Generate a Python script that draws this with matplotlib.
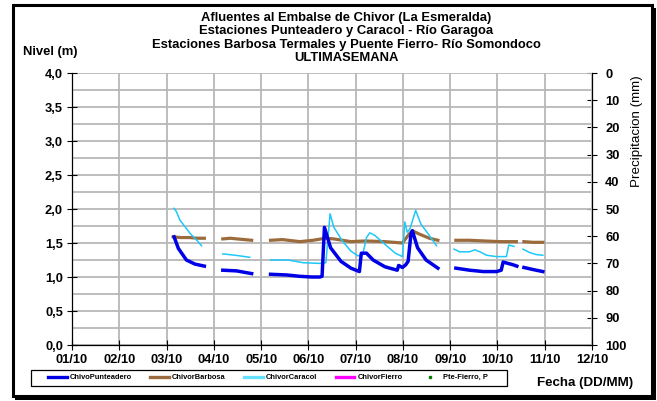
import numpy as np
import matplotlib
matplotlib.use("Agg")
import matplotlib.pyplot as plt
from matplotlib.patches import Rectangle
from matplotlib.lines import Line2D

plt.rcParams['font.family'] = ['Liberation Sans', 'DejaVu Sans']

# Day of October (fractional); None marks a gap in the record
punteadero_t = [3.16, 3.25, 3.42, 3.60, 3.80, None,
                4.19, 4.48, 4.80, None,
                5.20, 5.54, 5.82, 6.07, 6.24, 6.29, 6.34, 6.47, 6.69, 6.90, 7.08, 7.12, 7.23,
                7.37, 7.62, 7.88, 7.91, 7.99, 8.06, 8.11, 8.17, 8.20, 8.31, 8.49, 8.74, None,
                9.12, 9.41, 9.70, 9.98, 10.08, 10.12, 10.22, 10.33, 10.41, None,
                10.56, 10.75, 10.96]
punteadero_v = [1.59, 1.42, 1.25, 1.19, 1.16, None,
                1.10, 1.09, 1.05, None,
                1.04, 1.03, 1.01, 1.00, 1.00, 1.01, 1.73, 1.43, 1.23, 1.13, 1.08, 1.35, 1.35,
                1.25, 1.15, 1.10, 1.17, 1.14, 1.18, 1.23, 1.63, 1.68, 1.43, 1.25, 1.13, None,
                1.13, 1.10, 1.08, 1.08, 1.10, 1.22, 1.20, 1.18, 1.16, None,
                1.14, 1.11, 1.08]

barbosa_t = [3.14, 3.30, 3.49, 3.65, 3.80, None,
             4.19, 4.35, 4.49, 4.65, 4.80, None,
             5.20, 5.45, 5.70, 5.82, 6.10, 6.36, 6.54, 6.90, 7.20, 7.62, 7.99, 8.13, 8.20,
             8.35, 8.56, 8.74, None,
             9.12, 9.40, 9.73, 10.05, 10.40, None,
             10.56, 10.75, 10.96]
barbosa_v = [1.59, 1.58, 1.58, 1.57, 1.57, None,
             1.56, 1.57, 1.56, 1.55, 1.54, None,
             1.54, 1.55, 1.53, 1.52, 1.54, 1.57, 1.56, 1.52, 1.53, 1.52, 1.50, 1.63, 1.68,
             1.63, 1.57, 1.54, None,
             1.54, 1.54, 1.53, 1.52, 1.52, None,
             1.52, 1.51, 1.51]

caracol_t = [3.16, 3.21, 3.28, 3.39, 3.50, 3.64, 3.74, None,
             4.19, 4.45, 4.76, None,
             5.20, 5.57, 5.89, 6.24, 6.37, 6.46, 6.54, 6.72, 6.90, 7.05, 7.15, 7.23, 7.30, 7.41,
             7.62, 7.84, 7.99, 8.04, 8.09, 8.15, 8.27, 8.38, 8.56, 8.71, None,
             9.08, 9.20, 9.41, 9.52, 9.63, 9.77, 9.98, 10.19, 10.24, 10.35, None,
             10.54, 10.68, 10.82, 10.96]
caracol_v = [2.01, 1.96, 1.84, 1.74, 1.64, 1.54, 1.46, None,
             1.34, 1.32, 1.29, None,
             1.25, 1.25, 1.21, 1.20, 1.21, 1.93, 1.73, 1.53, 1.38, 1.31, 1.33, 1.58, 1.65, 1.61,
             1.48, 1.35, 1.30, 1.81, 1.66, 1.71, 1.98, 1.78, 1.61, 1.46, None,
             1.41, 1.37, 1.37, 1.40, 1.37, 1.32, 1.30, 1.30, 1.47, 1.45, None,
             1.41, 1.36, 1.33, 1.32]

fierro_t, fierro_v = [], []
pte_fierro_p_t, pte_fierro_p_v = [], []

x_ticks = list(range(1, 13))
x_labels = ["01/10", "02/10", "03/10", "04/10", "05/10", "06/10",
            "07/10", "08/10", "09/10", "10/10", "11/10", "12/10"]
y_ticks = [0.0, 0.5, 1.0, 1.5, 2.0, 2.5, 3.0, 3.5, 4.0]
y_labels = ["0,0", "0,5", "1,0", "1,5", "2,0", "2,5", "3,0", "3,5", "4,0"]
y_grid = [0.25 * i for i in range(17)]
p_ticks = list(range(0, 101, 10))

title_lines = ["Afluentes al Embalse de Chivor (La Esmeralda)",
               "Estaciones Punteadero y Caracol - Río Garagoa",
               "Estaciones Barbosa Termales y Puente Fierro- Río Somondoco",
               "ULTIMASEMANA"]
legend_labels = ["ChivoPunteadero", "ChivorBarbosa", "ChivorCaracol", "ChivorFierro",
                 "Pte-Fierro, P"]


def arr(a):
    return np.array([np.nan if v is None else v for v in a], dtype=float)


W, H = 657, 401
fig = plt.figure(figsize=(W / 100, H / 100), dpi=100)
fig.patch.set_facecolor("white")

# outer frame with shadow
fig.add_artist(Rectangle((15 / W, 1 - 400 / H), 641 / W, 392 / H, transform=fig.transFigure,
                         facecolor="black", edgecolor="none", zorder=-2))
fig.add_artist(Rectangle((12.5 / W, 1 - 396 / H), 639 / W, 391.5 / H, transform=fig.transFigure,
                         facecolor="white", edgecolor="black", linewidth=2.2, zorder=-1))

ax = fig.add_axes([72 / W, 1 - 345 / H, 520 / W, 272 / H])
ax2 = ax.twinx()
ax.set_zorder(3)
ax2.set_zorder(2)
ax.patch.set_visible(False)
ax2.patch.set_visible(False)

GRID = "#B8B8B8"
ax.set_xlim(1, 12)
ax.set_ylim(0, 4)
ax.hlines(y_grid, 1, 12, colors=GRID, lw=1.3, zorder=1)
ax.vlines(x_ticks, 0, 4, colors=GRID, lw=1.3, zorder=1)

ax.plot(arr(barbosa_t), arr(barbosa_v), color="#9C6B3C", lw=2.3, zorder=3)
ax.plot(arr(caracol_t), arr(caracol_v), color="#1EC8FA", lw=1.1, zorder=4)
ax.plot(arr(punteadero_t), arr(punteadero_v), color="#0000E6", lw=2.5, zorder=5)
ax.plot(fierro_t, fierro_v, color="#FF00FF", lw=2)
ax.plot(pte_fierro_p_t, pte_fierro_p_v, "s", color="#008000", ms=2)

ax.set_xlim(1, 12)
ax.set_ylim(0, 4)
ax.set_xticks(x_ticks)
ax.set_xticklabels(x_labels, fontsize=9.3, fontweight="bold")
ax.set_yticks(y_ticks)
ax.set_yticklabels(y_labels, fontsize=9.3, fontweight="bold")
ax.tick_params(axis="both", which="major", direction="inout", length=7, width=0.8, pad=3)
for s in ["left", "bottom"]:
    ax.spines[s].set_color("black")
    ax.spines[s].set_linewidth(0.9)
    ax.spines[s].set_zorder(6)
ax.spines["top"].set_visible(False)
ax.spines["right"].set_visible(False)

ax2.set_ylim(100, 0)
ax2.set_yticks(p_ticks)
ax2.set_yticklabels([str(v) for v in p_ticks], fontsize=9.3, fontweight="bold")
ax2.tick_params(axis="y", direction="inout", length=7, width=0.8, pad=6)
ax2.spines["right"].set_color("black")
ax2.spines["right"].set_linewidth(0.9)
for s in ["left", "top", "bottom"]:
    ax2.spines[s].set_visible(False)

# titles
ys = [18, 31, 45, 58]
for t, yy in zip(title_lines, ys):
    fig.text(346 / W, 1 - yy / H, t, ha="center", va="center", fontsize=9.4, fontweight="bold")

fig.text(50 / W, 1 - 52 / H, "Nivel (m)", ha="center", va="center", fontsize=9.4, fontweight="bold")
fig.text(637 / W, 1 - 131 / H, "Precipitacion (mm)", ha="center", va="center", rotation=90,
         fontsize=9.6)
fig.text(585 / W, 1 - 383 / H, "Fecha (DD/MM)", ha="center", va="center", fontsize=9.6,
         fontweight="bold")

# legend
fig.add_artist(Rectangle((31 / W, 1 - 385.5 / H), 476 / W, 16 / H, transform=fig.transFigure,
                         facecolor="white", edgecolor="black", linewidth=0.9, zorder=4))
handles = [Line2D([], [], color="#0000E6", lw=2.4),
           Line2D([], [], color="#9C6B3C", lw=2.4),
           Line2D([], [], color="#66E0FF", lw=2.4),
           Line2D([], [], color="#FF00FF", lw=2.4),
           Line2D([], [], color="#008000", marker="s", ms=1.8, lw=0)]
leg = fig.legend(handles, legend_labels, loc="center left",
                 bbox_to_anchor=(48 / W, 1 - 377.5 / H),
                 ncol=5, frameon=False,
                 handlelength=2.5, handletextpad=0.4, borderpad=0, borderaxespad=0,
                 columnspacing=2.45, prop={"weight": "bold", "size": 5.4})
leg.set_zorder(5)

fig.savefig("out.png", dpi=100)
